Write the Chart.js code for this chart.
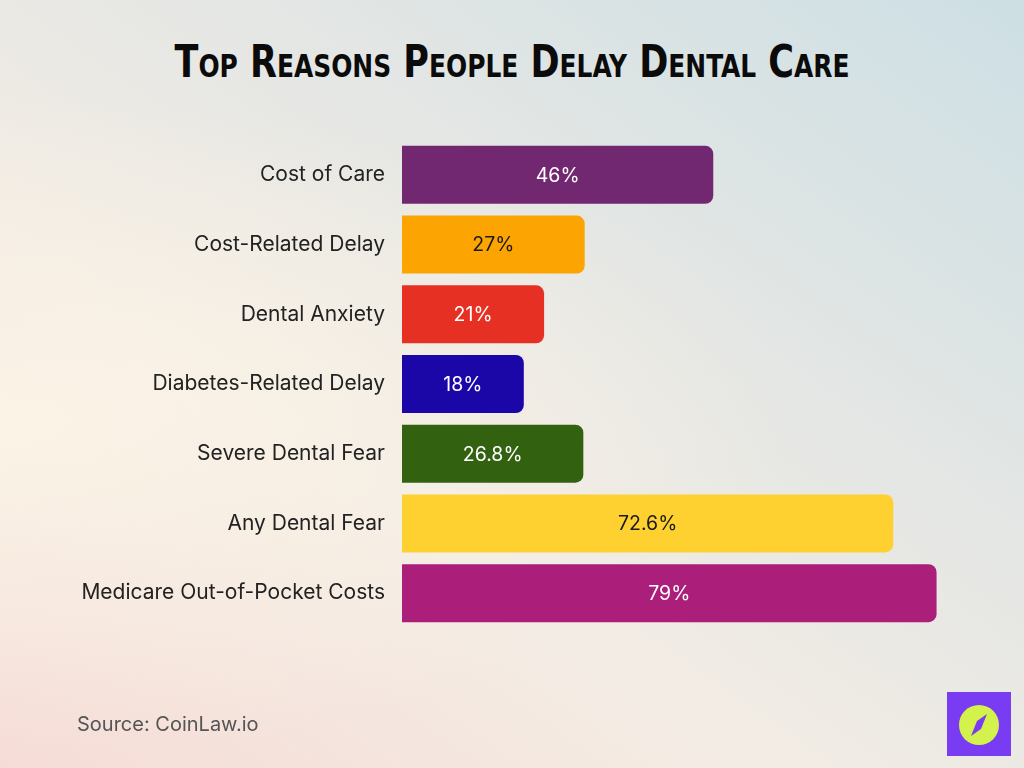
<!DOCTYPE html>
<html lang="en">
  <head>
    <meta charset="utf-8">
    <title>Top Reasons People Delay Dental Care</title>
    <script src="https://cdn.jsdelivr.net/npm/chart.js@4.4.0/dist/chart.umd.min.js"></script>
    <style>
      html, body { margin: 0; padding: 0; }
      body {
        width: 1024px; height: 768px; overflow: hidden; position: relative;
        background:
          radial-gradient(ellipse at 0% 55%, #fbf3e6 0%, rgba(251,243,230,0) 55%),
          linear-gradient(35deg, #f6dcd6 0%, #f3ece4 35%, #e3e6e4 65%, #cddfe4 100%);
      }
      #title {
        position: absolute; top: 35px; left: 0; width: 1024px; margin: 0;
        text-align: center; transform: scaleX(0.865);
        font-family: "DejaVu Sans Condensed", "DejaVu Sans", sans-serif;
        font-weight: bold; font-size: 45px; font-variant: small-caps;
        letter-spacing: 0; color: #0b0b0b;
      }
      #source {
        position: absolute; left: 77px; top: 712px;
        font-family: Inter, sans-serif; font-size: 20px; color: #555;
      }
      #logo { position: absolute; left: 947px; top: 692px; }
      #chart { position: absolute; left: 0; top: 0; }
    </style>
  </head>
  <body>
    <h1 id="title">Top Reasons People Delay Dental Care</h1>
    <canvas id="chart" width="1024" height="768"></canvas>
    <div id="source">Source: CoinLaw.io</div>
    <svg id="logo" width="64" height="64" viewBox="0 0 64 64">
      <rect width="64" height="64" fill="#7a3cf2"/>
      <circle cx="32" cy="33" r="20" fill="#d3f34c"/>
      <polygon points="40,22 34,37 24,44 30,29" fill="#7a3cf2"/>
    </svg>
    <script>
      const reasons = ['Cost of Care', 'Cost-Related Delay', 'Dental Anxiety',
        'Diabetes-Related Delay', 'Severe Dental Fear', 'Any Dental Fear',
        'Medicare Out-of-Pocket Costs'];
      const shares = [46, 27, 21, 18, 26.8, 72.6, 79];
      const barColors = ['#722870', '#fca502', '#e63024', '#1b06a8', '#32620f', '#fed130', '#ab1e7a'];
      const labelColors = ['#ffffff', '#1a1a1a', '#ffffff', '#ffffff', '#ffffff', '#1a1a1a', '#ffffff'];

      // values written in the middle of each bar
      const barLabels = {
        id: 'barLabels',
        afterDatasetsDraw(chart) {
          const ctx = chart.ctx;
          const meta = chart.getDatasetMeta(0);
          ctx.save();
          ctx.font = '19.5px Inter, sans-serif';
          ctx.textAlign = 'center';
          ctx.textBaseline = 'middle';
          meta.data.forEach((bar, i) => {
            ctx.fillStyle = labelColors[i];
            ctx.fillText(shares[i] + '%', (bar.base + bar.x) / 2, bar.y + 1);
          });
          ctx.restore();
        }
      };

      const ctx = document.getElementById('chart').getContext('2d');
      new Chart(ctx, {
        type: 'bar',
        data: {
          labels: reasons,
          datasets: [{
            data: shares,
            backgroundColor: barColors,
            borderRadius: 8,
            borderSkipped: 'start',
            barPercentage: 0.832,
            categoryPercentage: 1
          }]
        },
        options: {
          indexAxis: 'y',
          responsive: false,
          animation: false,
          layout: { padding: { top: 140, bottom: 140, left: 0, right: 13 } },
          plugins: { legend: { display: false }, tooltip: { enabled: false } },
          scales: {
            x: { display: false, min: 0, max: 90 },
            y: {
              afterFit(scale) { scale.width = 402; },
              grid: { display: false, drawTicks: false },
              border: { display: false },
              ticks: {
                padding: 17,
                color: '#222',
                font: { family: 'Inter', size: 21 }
              }
            }
          }
        },
        plugins: [barLabels]
      });
    </script>
  </body>
</html>
